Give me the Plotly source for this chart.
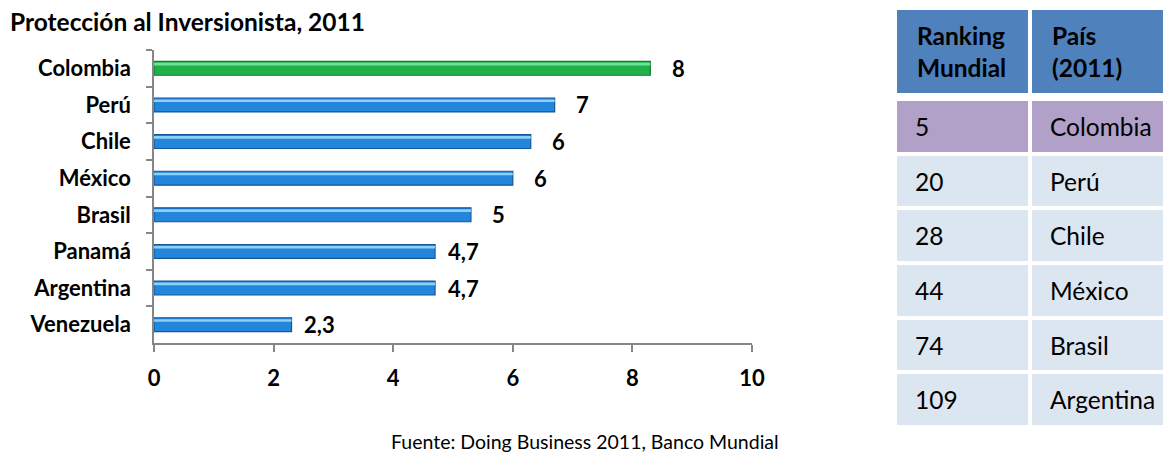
import plotly.graph_objects as go

# Datos del gráfico de barras
paises = ["Colombia", "Perú", "Chile", "México", "Brasil", "Panamá", "Argentina", "Venezuela"]
valores = [8.3, 6.7, 6.3, 6.0, 5.3, 4.7, 4.7, 2.3]
etiquetas = ["8", "7", "6", "6", "5", "4,7", "4,7", "2,3"]

# Datos de la tabla
encabezados = ["Ranking<br>Mundial", "País<br>(2011)"]
ranking = ["5", "20", "28", "44", "74", "109"]
ranking_paises = ["Colombia", "Perú", "Chile", "México", "Brasil", "Argentina"]

titulo = "Protección al Inversionista, 2011"
fuente = "Fuente: Doing Business 2011, Banco Mundial"

# La página deja un margen de 8 px alrededor de la figura
OFF = 8
W, H = 1171 - OFF, 454 - OFF
FONT = "Lato"


def px_x(p):
    return min(1, max(0, (p - OFF) / W))


def px_y(p):
    return min(1, max(0, 1 - (p - OFF) / H))


destacado = "Colombia"
col_main = ["#22B04B" if p == destacado else "#2486DA" for p in paises]
col_line = ["#157A33" if p == destacado else "#14569A" for p in paises]
col_gloss = ["#6BE596" if p == destacado else "#8AD0F8" for p in paises]

fig = go.Figure()

# Barras principales
fig.add_trace(go.Bar(
    x=valores, y=paises, orientation="h",
    marker=dict(color=col_main, line=dict(color=col_line, width=1.2)),
    width=0.38, offset=-0.19,
    hoverinfo="skip", showlegend=False,
))
# Brillo superior (efecto cilindro)
fig.add_trace(go.Bar(
    x=valores, y=paises, orientation="h",
    marker=dict(color=col_gloss, line=dict(width=0)),
    width=0.07, offset=-0.15,
    hoverinfo="skip", showlegend=False,
))

# Etiquetas de valor
for p, v, t in zip(paises, valores, etiquetas):
    fig.add_annotation(
        x=v, y=p, xref="x", yref="y", text=t, showarrow=False,
        xanchor="center", xshift=28,
        font=dict(family=FONT, size=22, color="black", weight="bold"),
    )

# Tabla como heatmap (celdas con separaciones blancas)
col_edges = [0, 135, 276]
row_h = [87, 4] + [54.67] * len(ranking)
row_edges = [0]
for h in row_h:
    row_edges.append(row_edges[-1] + h)

z = [[2, 2], [None, None]]
for p in ranking_paises:
    z.append([1, 1] if p == destacado else [0, 0])

fig.add_trace(go.Heatmap(
    z=z, x=col_edges, y=row_edges,
    colorscale=[[0, "#DCE6F1"], [0.5, "#B1A0C7"], [1, "#4F81BD"]],
    zmin=0, zmax=2, showscale=False, xgap=4, ygap=4,
    hoverinfo="skip", xaxis="x2", yaxis="y2",
))


def centro(i):
    return (row_edges[i] + row_edges[i + 1]) / 2


for c, txt in enumerate(encabezados):
    fig.add_annotation(
        x=col_edges[c], y=centro(0), xref="x2", yref="y2", text=txt,
        showarrow=False, xanchor="left", yanchor="middle", xshift=20, align="left",
        font=dict(family=FONT, size=24.5, color="black", weight="bold"),
    )
for r, (rk, p) in enumerate(zip(ranking, ranking_paises)):
    for c, txt in enumerate([rk, p]):
        fig.add_annotation(
            x=col_edges[c], y=centro(r + 2), xref="x2", yref="y2", text=txt,
            showarrow=False, xanchor="left", yanchor="middle", xshift=18,
            font=dict(family=FONT, size=24.5, color="black"),
        )

# Título y fuente
fig.add_annotation(
    x=px_x(8), y=px_y(22), xref="paper", yref="paper", text=titulo,
    showarrow=False, xanchor="left", yanchor="middle",
    font=dict(family=FONT, size=24.5, color="black", weight="bold"),
)
fig.add_annotation(
    x=px_x(585), y=px_y(441), xref="paper", yref="paper", text=fuente,
    showarrow=False, xanchor="center", yanchor="middle",
    font=dict(family=FONT, size=19.5, color="black"),
)

axis_color = "#868686"
fig.update_layout(
    width=W, height=H,
    margin=dict(l=0, r=0, t=0, b=0, pad=0),
    paper_bgcolor="white", plot_bgcolor="white",
    barmode="overlay",
    xaxis=dict(
        domain=[px_x(154), px_x(752)], range=[0, 10], dtick=2,
        showline=True, linecolor=axis_color, linewidth=1.5,
        ticks="outside", ticklen=7, tickcolor=axis_color, tickwidth=1.5,
        showgrid=False, zeroline=False, ticklabelstandoff=8, automargin=False,
        tickfont=dict(family=FONT, size=22, color="black", weight="bold"),
        anchor="y",
    ),
    yaxis=dict(
        domain=[px_y(343), px_y(50)], type="category",
        categoryorder="array", categoryarray=paises, autorange="reversed",
        showline=True, linecolor=axis_color, linewidth=1.5,
        ticks="outside", ticklen=6, tickcolor=axis_color, tickwidth=1.5,
        tickson="boundaries", showgrid=False, zeroline=False, ticklabelstandoff=17,
        automargin=False,
        tickfont=dict(family=FONT, size=22, color="black", weight="bold"),
        anchor="x",
    ),
    xaxis2=dict(domain=[px_x(895), 1], visible=False, anchor="y2", fixedrange=True,
                automargin=False),
    yaxis2=dict(domain=[px_y(427), px_y(8)], visible=False, anchor="x2",
                autorange="reversed", fixedrange=True, automargin=False),
)

fig.write_html("out.html")
